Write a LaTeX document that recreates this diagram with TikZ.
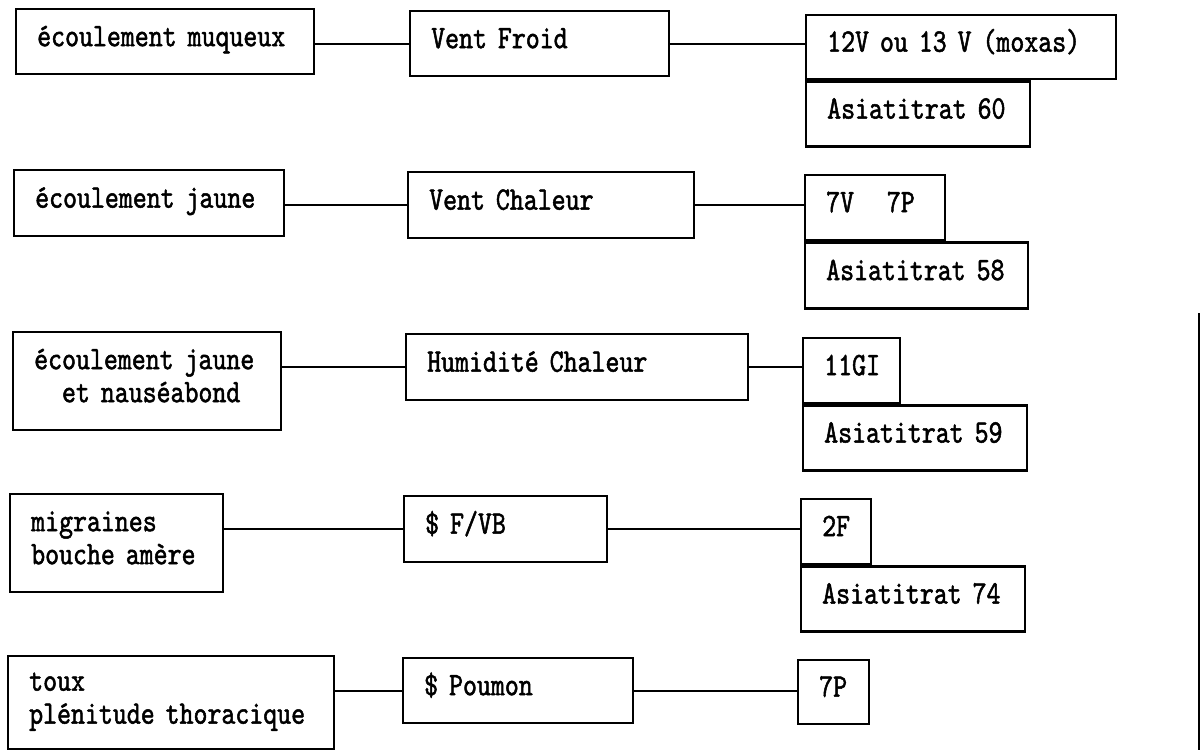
\documentclass[tikz,border=0pt]{standalone}
\usepackage{fontspec}
\usepackage{tikz}
\usetikzlibrary{positioning}
\newfontfamily\cellfont[FakeStretch=0.81,FakeBold=1.5]{lmmono10-regular.otf}
\tikzset{BOX style/.style={x=0.5pt,y=-0.5pt,every node/.style={font={\cellfont\fontsize{16.4}{16.5}\selectfont}}}}

\begin{document}
\begin{tikzpicture}[BOX style]
	\tikzstyle{cell}=[draw, line width=1.2pt, anchor=north west, inner xsep=10.5pt,
	inner ysep=0pt, align=left, text height=10pt, text depth=5.5pt]
	\tikzstyle{two lines}=[text depth=22pt]
	\tikzstyle{link}=[line width=1pt]
	\useasboundingbox (0,0) rectangle (1202,750);
	
	\node[cell, text width=128pt, minimum height=32.5pt] (1a) at (15,8) {écoulement muqueux};
	\node[cell, text width=108.5pt, minimum height=32.5pt] (1b) at (409,10) {Vent Froid};
	\node[cell, text width=134pt, minimum height=32pt] (1c) at (805,14) {12V ou 13 V (moxas)};
	\node[cell, text width=91pt, minimum height=32.5pt] (1d) at (1c.south west) {Asiatitrat 60};
	
	\node[cell, text width=114pt, minimum height=33pt] (2a) at (13,169) {écoulement jaune};
	\node[cell, text width=122pt, minimum height=33pt] (2b) at (407,171) {Vent Chaleur};
	\node[cell, text width=49pt, minimum height=32.5pt] (2c) at (804,174) {7V\ \ \ 7P};
	\node[cell, text width=90.5pt, minimum height=33pt] (2d) at (2c.south west) {Asiatitrat 58};
	
	\node[cell, two lines, text width=113pt, minimum height=49pt] (3a) at (12,331) {écoulement jaune\\\hspace*{13.9pt}et nauséabond};
	\node[cell, text width=150pt, minimum height=33pt] (3b) at (405,333) {Humidité Chaleur};
	\node[cell, text width=27.5pt, minimum height=32.5pt] (3c) at (802,337) {11GI};
	\node[cell, text width=91pt, minimum height=32.5pt] (3d) at (3c.south west) {Asiatitrat 59};
	
	\node[cell, two lines, text width=85.5pt, minimum height=49pt] (4a) at (9,493) {migraines\\bouche amère};
	\node[cell, text width=80.5pt, minimum height=33pt] (4b) at (403,495) {\$ F/VB};
	\node[cell, text width=14pt, minimum height=32.5pt] (4c) at (800,498) {2F};
	\node[cell, text width=91pt, minimum height=32.5pt] (4d) at (4c.south west) {Asiatitrat 74};
	
	\node[cell, two lines, text width=142pt, minimum height=46.5pt] (5a) at (7,655) {toux\\plénitude thoracique};
	\node[cell, text width=94pt, minimum height=32.5pt] (5b) at (402,657) {\$ Poumon};
	\node[cell, text width=14.5pt, minimum height=32pt] (5c) at (797,659) {7P};
	
	\coordinate (edge top) at (1199,313);
	\coordinate (edge bottom) at (1199,750);
	
	\path[link]
	(1b.west -| 1a.east) edge (1b.west)
	(1b.east) edge (1b.east -| 1c.west)
	
	(2b.west -| 2a.east) edge (2b.west)
	(2b.east) edge (2b.east -| 2c.west)
	
	(3b.west -| 3a.east) edge (3b.west)
	(3b.east) edge (3b.east -| 3c.west)
	
	(4b.west -| 4a.east) edge (4b.west)
	(4b.east) edge (4b.east -| 4c.west)
	
	(5b.west -| 5a.east) edge (5b.west)
	(5b.east) edge (5b.east -| 5c.west)
	;
	\draw[line width=0.8pt] (edge top) -- (edge bottom);
\end{tikzpicture}
\end{document}
